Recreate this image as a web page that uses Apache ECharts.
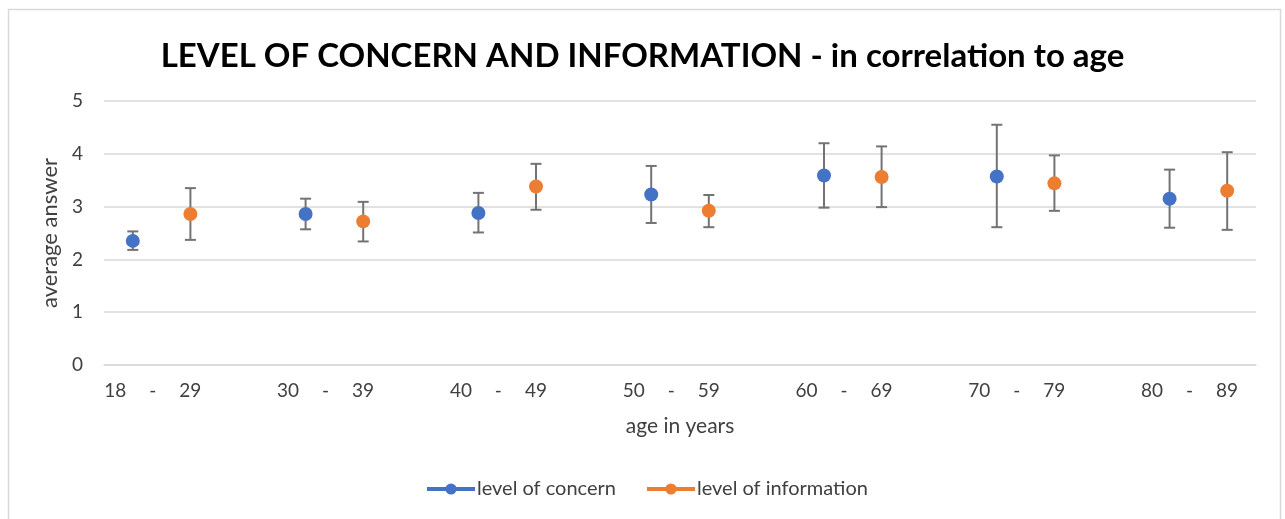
<!DOCTYPE html>
<html>
<head>
<meta charset="utf-8">
<script src="https://cdn.jsdelivr.net/npm/echarts@6/dist/echarts.min.js"></script>
<style>
  html, body { margin: 0; padding: 0; background: #fff; }
  #main { width: 1285px; height: 519px; }
</style>
</head>
<body>
<div id="main"></div>
<script>
// age groups on the x axis
const ageGroups = ['18 - 29', '30 - 39', '40 - 49', '50 - 59', '60 - 69', '70 - 79', '80 - 89'];

// level of concern: mean and error bar ends
const concern = [2.35, 2.86, 2.88, 3.23, 3.59, 3.57, 3.15];
const concernLow = [2.18, 2.57, 2.51, 2.69, 2.98, 2.61, 2.60];
const concernHigh = [2.53, 3.15, 3.26, 3.77, 4.20, 4.55, 3.70];

// level of information: mean and error bar ends
const information = [2.86, 2.72, 3.38, 2.92, 3.56, 3.44, 3.30];
const informationLow = [2.37, 2.34, 2.94, 2.61, 2.99, 2.92, 2.56];
const informationHigh = [3.35, 3.09, 3.81, 3.22, 4.14, 3.97, 4.03];

const yTicks = [0, 1, 2, 3, 4, 5];

const blue = '#4472C4';
const orange = '#ED7D31';
const font = 'Lato, "Open Sans", sans-serif';
const textColor = '#404040';

// each age group gets a slot for concern, one for information and a gap slot
let slots = [];
let concernData = [];
let informationData = [];
let errorData = [];
ageGroups.forEach(function (g, i) {
  slots.push(g + '|c');
  slots.push(g + '|i');
  concernData.push(concern[i]);
  concernData.push('-');
  informationData.push('-');
  informationData.push(information[i]);
  errorData.push([i * 3, concernLow[i], concernHigh[i]]);
  errorData.push([i * 3 + 1, informationLow[i], informationHigh[i]]);
  if (i < ageGroups.length - 1) {
    slots.push(g + '|gap');
    concernData.push('-');
    informationData.push('-');
  }
});

let chart = echarts.init(document.getElementById('main'), null, { renderer: 'canvas' });

let option = {
  animation: false,
  textStyle: { fontFamily: font },
  title: {
    text: 'LEVEL OF CONCERN AND INFORMATION - in correlation to age',
    left: 'center',
    top: 35,
    textStyle: { fontFamily: font, fontWeight: 'bold', fontSize: 33, color: '#000' }
  },
  graphic: [{
    type: 'rect',
    shape: { x: 8.5, y: 9.5, width: 1272, height: 520 },
    style: { fill: 'none', stroke: '#d9d9d9', lineWidth: 1.5 },
    silent: true
  }],
  legend: {
    left: 420,
    top: 474,
    itemWidth: 48,
    itemHeight: 14,
    itemGap: 29,
    lineStyle: { width: 4, opacity: 1 },
    textStyle: { fontFamily: font, fontSize: 20, color: textColor, padding: [0, 0, 0, -3] },
    data: ['level of concern', 'level of information']
  },
  grid: { left: 104, right: 29, top: 101, bottom: 154 },
  xAxis: {
    type: 'category',
    data: slots,
    boundaryGap: true,
    name: 'age in years',
    nameLocation: 'middle',
    nameGap: 51,
    nameTextStyle: { fontFamily: font, fontSize: 21, color: textColor },
    axisLine: { lineStyle: { color: '#d9d9d9', width: 1.5 } },
    axisTick: { show: false },
    axisLabel: {
      interval: 0,
      margin: 16,
      color: textColor,
      fontSize: 19,
      align: 'center',
      formatter: function (value, index) {
        if (index % 3 !== 0) return '';
        let parts = value.split('|')[0].split(' - ');
        return '{s|}{n|' + parts[0] + '}{d|-}{n|' + parts[1] + '}';
      },
      rich: {
        s: { width: 40 },
        n: { width: 30, align: 'center', fontSize: 19, color: textColor, fontFamily: font },
        d: { width: 45, align: 'center', fontSize: 19, color: textColor, fontFamily: font }
      }
    }
  },
  yAxis: {
    type: 'value',
    min: yTicks[0],
    max: yTicks[yTicks.length - 1],
    interval: 1,
    name: 'average answer',
    nameLocation: 'middle',
    nameGap: 35,
    nameTextStyle: { fontFamily: font, fontSize: 22, color: textColor },
    axisLine: { show: false },
    axisTick: { show: false },
    axisLabel: { margin: 21, fontSize: 19, color: textColor },
    splitLine: { lineStyle: { color: '#d9d9d9', width: 1.5 } }
  },
  series: [
    {
      name: 'error bars',
      type: 'custom',
      z: 1,
      data: errorData,
      encode: { x: 0, y: [1, 2] },
      renderItem: function (params, api) {
        let x = api.value(0);
        let lo = api.coord([x, api.value(1)]);
        let hi = api.coord([x, api.value(2)]);
        let cap = 5.5;
        let st = { stroke: '#737373', lineWidth: 2 };
        return {
          type: 'group',
          children: [
            { type: 'line', shape: { x1: lo[0], y1: lo[1], x2: hi[0], y2: hi[1] }, style: st },
            { type: 'line', shape: { x1: lo[0] - cap, y1: lo[1], x2: lo[0] + cap, y2: lo[1] }, style: st },
            { type: 'line', shape: { x1: hi[0] - cap, y1: hi[1], x2: hi[0] + cap, y2: hi[1] }, style: st }
          ]
        };
      }
    },
    {
      name: 'level of concern',
      type: 'line',
      z: 3,
      data: concernData,
      color: blue,
      symbol: 'circle',
      symbolSize: 14,
      lineStyle: { opacity: 0 },
      itemStyle: { color: blue }
    },
    {
      name: 'level of information',
      type: 'line',
      z: 3,
      data: informationData,
      color: orange,
      symbol: 'circle',
      symbolSize: 14,
      lineStyle: { opacity: 0 },
      itemStyle: { color: orange }
    }
  ]
};

chart.setOption(option);
</script>
</body>
</html>
